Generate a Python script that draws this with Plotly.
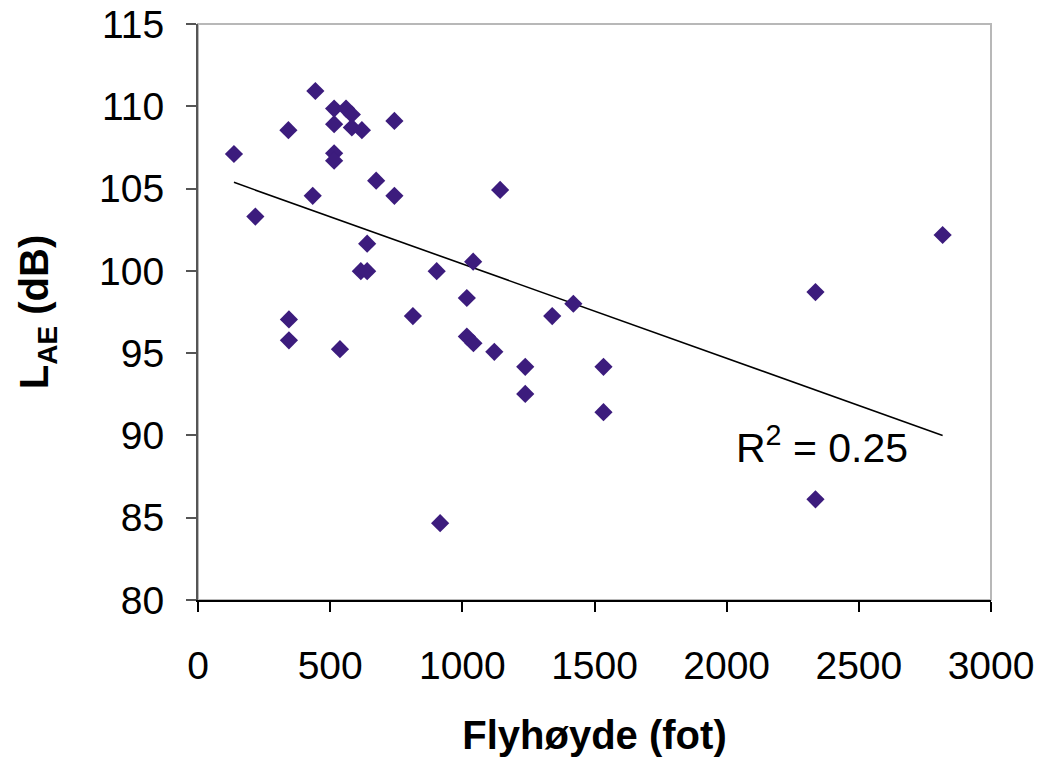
import numpy as np
import plotly.graph_objects as go

# Flight altitude (ft) and L_AE (dB)
altitude_ft = [136, 217, 342, 344, 344, 444, 434, 515, 560, 582,
               515, 582, 620, 515, 515, 537, 616, 640, 640, 674,
               743, 743, 813, 903, 916, 1017, 1017, 1042, 1041, 1121,
               1143, 1238, 1238, 1340, 1420, 1534, 1534, 2336, 2336, 2817]
lae_db = [107.10, 103.30, 108.55, 97.05, 95.78, 110.93, 104.56, 109.86, 109.86, 109.50,
          108.91, 108.71, 108.55, 107.14, 106.69, 95.24, 99.98, 99.98, 101.65, 105.48,
          109.11, 104.56, 97.25, 99.98, 84.67, 98.35, 96.01, 95.60, 100.56, 95.08,
          104.92, 94.17, 92.52, 97.25, 98.00, 94.17, 91.41, 98.71, 86.12, 102.18]

x_ticks = [0, 500, 1000, 1500, 2000, 2500, 3000]
y_ticks = [80, 85, 90, 95, 100, 105, 110, 115]

x = np.array(altitude_ft, dtype=float)
y = np.array(lae_db, dtype=float)
slope, intercept = np.polyfit(x, y, 1)
r2 = np.corrcoef(x, y)[0, 1] ** 2
xf = np.array([x.min(), x.max()])
yf = slope * xf + intercept

FONT = "Arial, Liberation Sans, sans-serif"

fig = go.Figure()
fig.add_trace(go.Scatter(
    x=xf, y=yf, mode="lines",
    line=dict(color="black", width=1.6),
    hoverinfo="skip", showlegend=False))
fig.add_trace(go.Scatter(
    x=altitude_ft, y=lae_db, mode="markers",
    marker=dict(symbol="diamond", size=14, color="rgb(60,28,125)",
                line=dict(width=0)),
    showlegend=False))

fig.add_annotation(
    x=2360, y=89.4, xref="x", yref="y",
    text=f"R<sup>2</sup> = {r2:.2f}", showarrow=False,
    font=dict(family=FONT, size=41, color="black"))

fig.add_shape(type="rect", xref="paper", yref="paper", x0=0, x1=1, y0=0, y1=1,
              line=dict(color="#b8b8b8", width=2), layer="below")

# page body adds an 8px offset, so the figure is sized to fit the 1042x760 window
fig.update_layout(
    width=1034, height=752,
    margin=dict(l=190, r=51, t=16, b=160),
    plot_bgcolor="white", paper_bgcolor="white",
    font=dict(family=FONT, size=39, color="black"),
    xaxis=dict(
        range=[0, 3000], tickvals=x_ticks, ticks="outside", ticklen=10,
        tickcolor="black", tickwidth=1.5, showline=True, linecolor="black",
        linewidth=2, showgrid=False, zeroline=False, automargin=False,
        ticklabeloverflow="allow",
        tickfont=dict(family=FONT, size=39), ticklabelstandoff=20,
        title=dict(text="<b>Flyhøyde (fot)</b>", font=dict(family=FONT, size=40),
                   standoff=35)),
    yaxis=dict(
        range=[80, 115], tickvals=y_ticks, ticks="outside", ticklen=10,
        tickcolor="#555555", tickwidth=1.5, showline=True, linecolor="#555555",
        linewidth=2, showgrid=False, zeroline=False, automargin=False,
        ticklabeloverflow="allow",
        tickfont=dict(family=FONT, size=39), ticklabelstandoff=14,
        title=dict(text="<b>L<sub>AE</sub> (dB)</b>", font=dict(family=FONT, size=40),
                   standoff=38)),
)

fig.write_html("out.html")
